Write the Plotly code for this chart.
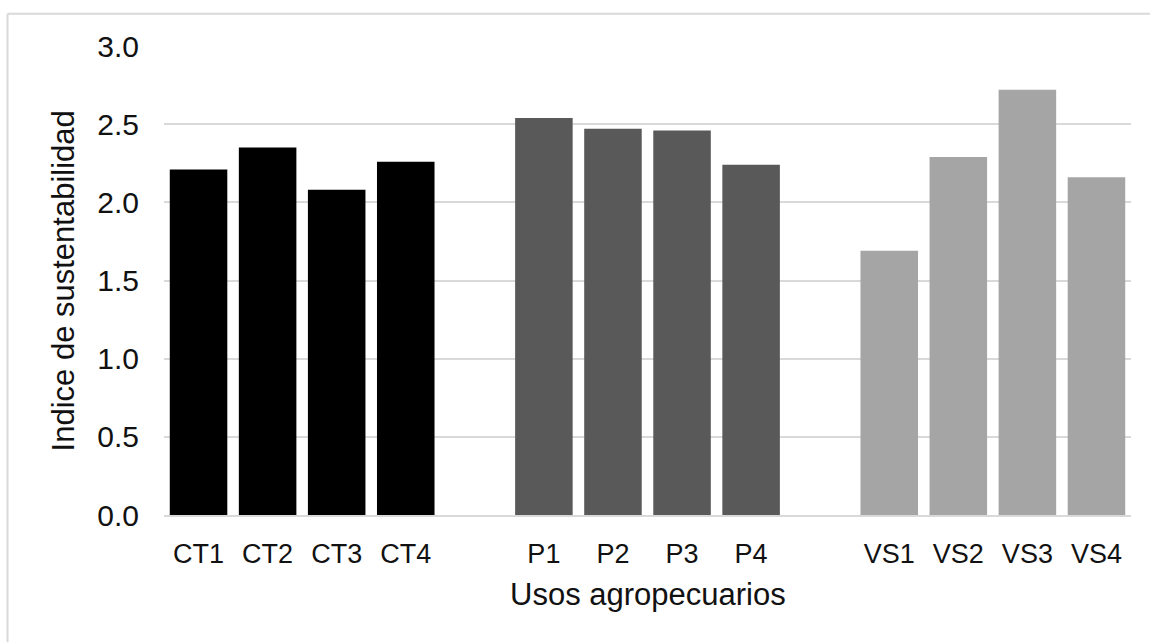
import plotly.graph_objects as go

# Sustainability index per agricultural use
ct_labels = ["CT1", "CT2", "CT3", "CT4"]
ct_values = [2.21, 2.35, 2.08, 2.26]

p_labels = ["P1", "P2", "P3", "P4"]
p_values = [2.54, 2.47, 2.46, 2.24]

vs_labels = ["VS1", "VS2", "VS3", "VS4"]
vs_values = [1.69, 2.29, 2.72, 2.16]

y_ticks = [0.0, 0.5, 1.0, 1.5, 2.0, 2.5, 3.0]

groups = [
    (ct_labels, ct_values, "#000000"),
    (p_labels, p_values, "#595959"),
    (vs_labels, vs_values, "#A5A5A5"),
]

FONT = "Arial, 'Liberation Sans', sans-serif"
GRID = "#d9d9d9"

fig = go.Figure()
tick_pos, tick_text = [], []
pos = 0
for labels, values, color in groups:
    xs = list(range(pos, pos + len(labels)))
    fig.add_trace(go.Bar(
        x=xs, y=values, marker=dict(color=color, line=dict(width=0)),
        hovertext=labels, showlegend=False,
    ))
    tick_pos += xs
    tick_text += labels
    pos += len(labels) + 1  # one empty slot between groups

fig.update_layout(
    width=1150, height=642,
    margin=dict(l=164, r=19, t=46, b=127),
    paper_bgcolor="white", plot_bgcolor="white",
    barmode="overlay", bargap=0.167,
    font=dict(family=FONT, color="#111111"),
)

fig.update_xaxes(
    range=[-0.5, pos - 1.5],
    tickmode="array", tickvals=tick_pos, ticktext=tick_text,
    tickfont=dict(size=27), ticks="", ticklabelstandoff=14,
    showgrid=False, showline=True, linecolor=GRID, linewidth=1.5,
    zeroline=False,
)
fig.update_yaxes(
    range=[0, 3], tickmode="array", tickvals=y_ticks,
    tickformat=".1f", tickfont=dict(size=30), ticks="",
    ticklabelstandoff=24,
    showgrid=True, gridcolor=GRID, gridwidth=1.5,
    zeroline=False, showline=False,
)

fig.add_annotation(
    text="Indice de sustentabilidad", xref="paper", yref="paper",
    x=-0.1035, y=0.5, xanchor="center", yanchor="middle",
    textangle=-90, showarrow=False, font=dict(size=31),
)
fig.add_annotation(
    text="Usos agropecuarios", xref="paper", yref="paper",
    x=0.5, y=-0.1696, xanchor="center", yanchor="middle",
    showarrow=False, font=dict(size=31),
)

# light frame edges (top and left) around the chart area
fig.add_shape(
    type="line", xref="paper", yref="paper",
    x0=-0.1618, x1=1.0196, y0=1.0687, y1=1.0687,
    line=dict(color=GRID, width=2), layer="below",
)
fig.add_shape(
    type="line", xref="paper", yref="paper",
    x0=-0.1618, x1=-0.1618, y0=-0.28, y1=1.0687,
    line=dict(color=GRID, width=2), layer="below",
)

fig.write_html("out.html")
